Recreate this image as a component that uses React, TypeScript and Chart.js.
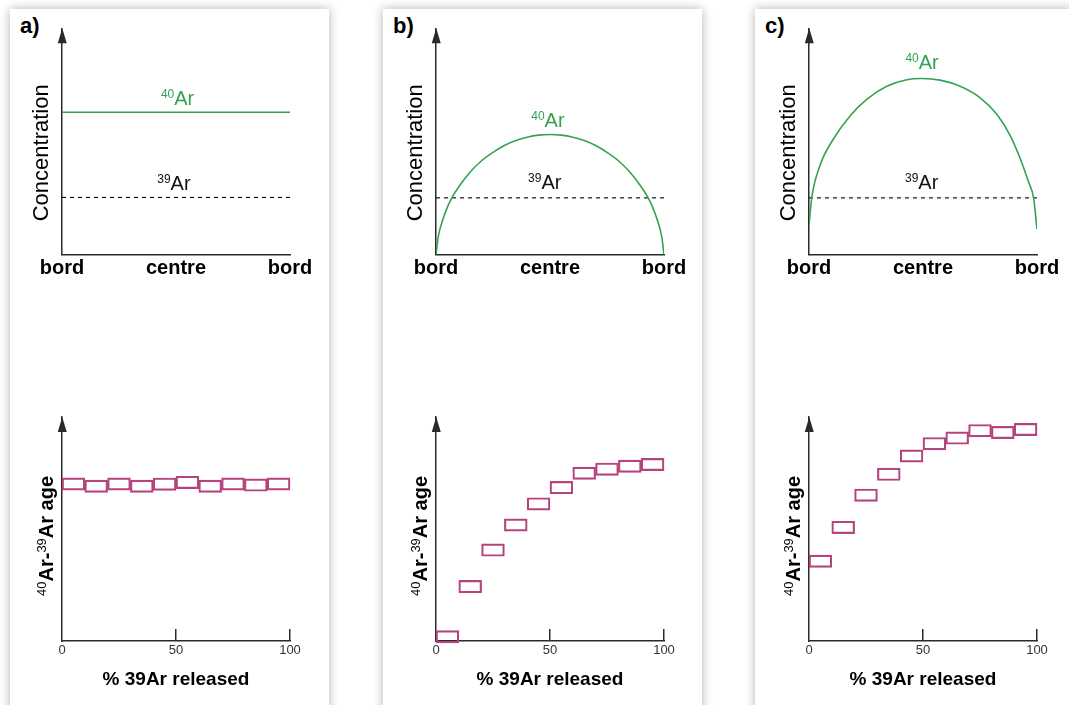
import React, { useEffect, useRef } from 'react';
import { Chart, registerables } from 'chart.js';

Chart.register(...registerables);

const FONT = "'Liberation Sans', Arial, Helvetica, sans-serif";
const GREEN = '#33a351';
const MAGENTA = '#b5437e';
const AXIS = '#2a2a2a';

// ---- tick labels ----
const PROFILE_TICKS = ['bord', 'centre', 'bord'];
const PROFILE_TICK_VALUES = [0, 50, 100];
const RELEASE_TICK_VALUES = [0, 50, 100];
const RELEASE_INNER_TICKS = [50, 100];

// ---- concentration profiles (x: % of grain, bord -> centre -> bord) ----
const AR40_A_X = [0, 100];
const AR40_A_Y = [62.9, 62.9];

const AR40_B_X = [0, 1, 3, 5, 7, 10, 15, 20, 25, 30, 35, 40, 45, 50, 55, 60, 65, 70, 75, 80, 85, 90, 93, 95, 97, 99, 100];
const AR40_B_Y = [0, 8, 15.5, 21, 25.2, 30, 36.5, 41.5, 45.2, 48.2, 50.4, 51.9, 52.8, 53.1, 52.8, 51.9, 50.4, 48.2, 45.2, 41.5, 36.5, 30, 25.2, 21, 15.5, 8, 0];

const AR40_C_X = [0, 1.2, 4.8, 10.7, 18, 25.3, 34.1, 42.9, 49.5, 57.5, 66.3, 75.1, 82.4, 88.3, 92.7, 96.3, 98.5, 100];
const AR40_C_Y = [13.1, 25.1, 39.4, 51.1, 61.3, 68.6, 74.4, 77.3, 77.8, 77.1, 74.4, 69.3, 62, 52.5, 42.3, 32.1, 25.1, 11.4];

const AR39_X = [0, 100];
const AR39_A_Y = [25.3, 25.3];
const AR39_B_Y = [25.1, 25.1];
const AR39_C_Y = [25.1, 25.1];

// ---- age spectra (10 heating steps) ----
const STEP_MID = [5, 15, 25, 35, 45, 55, 65, 75, 85, 95];
const AGE_A = [70.1, 69.1, 70.1, 69.1, 70.0, 70.8, 69.1, 70.1, 69.6, 70.1];
const AGE_B = [1.9, 24.3, 40.6, 51.8, 61.2, 68.5, 74.9, 76.7, 78.0, 78.8];
const AGE_C = [35.6, 50.7, 65.1, 74.4, 82.6, 88.1, 90.6, 93.9, 93.1, 94.4];
const AGE_HALF = 2.75;

type Seg = { text: string; font: string; dy: number };

function drawRich(ctx: CanvasRenderingContext2D, segs: Seg[], cx: number, baseY: number) {
  let total = 0;
  const widths = segs.map((s) => {
    ctx.font = s.font;
    const w = ctx.measureText(s.text).width;
    total += w;
    return w;
  });
  let x = cx - total / 2;
  ctx.textAlign = 'left';
  ctx.textBaseline = 'alphabetic';
  segs.forEach((s, i) => {
    ctx.font = s.font;
    ctx.fillText(s.text, x, baseY + s.dy);
    x += widths[i];
  });
}

const decorPlugin = {
  id: 'decor',
  afterDraw(chart: any, _args: any, opts: any) {
    const { ctx, chartArea, scales } = chart;
    const xs = scales.x;
    const ys = scales.y;
    ctx.save();
    const ax = Math.round(chartArea.left) + 0.25;
    // arrow on y axis
    ctx.fillStyle = AXIS;
    ctx.beginPath();
    ctx.moveTo(ax, chartArea.top);
    ctx.lineTo(ax - 4.5, chartArea.top + 15);
    ctx.lineTo(ax + 4.5, chartArea.top + 15);
    ctx.closePath();
    ctx.fill();
    // inner tick marks
    (opts.innerTicks || []).forEach((v: number) => {
      const px = Math.round(xs.getPixelForValue(v)) - 0.25;
      ctx.strokeStyle = AXIS;
      ctx.lineWidth = 1.5;
      ctx.beginPath();
      ctx.moveTo(px, chartArea.bottom);
      ctx.lineTo(px, chartArea.bottom - 12);
      ctx.stroke();
    });
    // in-plot labels
    (opts.labels || []).forEach((l: any) => {
      ctx.fillStyle = l.color;
      drawRich(
        ctx,
        [
          { text: l.sup, font: `12px ${FONT}`, dy: -7 },
          { text: l.main, font: `20px ${FONT}`, dy: 0 },
        ],
        xs.getPixelForValue(l.x),
        ys.getPixelForValue(l.y)
      );
    });
    // rotated y title
    if (opts.yTitle) {
      const t = opts.yTitle;
      ctx.translate(chartArea.left - t.gap, ys.getPixelForValue(t.y));
      ctx.rotate(-Math.PI / 2);
      ctx.fillStyle = '#000';
      drawRich(ctx, t.segs, 0, 0);
    }
    ctx.restore();
  },
};

const axisBorder = { display: true, color: AXIS, width: 1.5 };

function profileConfig(p: any) {
  return {
    type: 'line',
    data: {
      datasets: [
        {
          data: p.ar40X.map((x: number, i: number) => ({ x, y: p.ar40Y[i] })),
          borderColor: GREEN,
          borderWidth: 1.6,
          pointRadius: 0,
          cubicInterpolationMode: 'monotone',
          fill: false,
        },
        {
          data: AR39_X.map((x, i) => ({ x, y: p.ar39Y[i] })),
          borderColor: '#000',
          borderWidth: 1.1,
          borderDash: [4, 4],
          pointRadius: 0,
          fill: false,
        },
      ],
    },
    options: {
      animation: false,
      responsive: false,
      events: [],
      layout: { padding: { left: 52, right: 39, top: 19.3, bottom: 10.3 } },
      plugins: {
        legend: { display: false },
        tooltip: { enabled: false },
        decor: {
          labels: [
            { sup: '40', main: 'Ar', x: p.l40x, y: p.l40y, color: GREEN },
            { sup: '39', main: 'Ar', x: p.l39x, y: p.l39y, color: '#111' },
          ],
          yTitle: {
            gap: 13.7,
            y: 45,
            segs: [{ text: 'Concentration', font: `22px ${FONT}`, dy: 0 }],
          },
        },
      },
      scales: {
        x: {
          type: 'linear',
          min: 0,
          max: 100,
          grid: { display: false, drawTicks: false },
          border: axisBorder,
          afterBuildTicks: (s: any) => {
            s.ticks = PROFILE_TICK_VALUES.map((v) => ({ value: v }));
          },
          ticks: {
            padding: 2,
            color: '#000',
            autoSkip: false,
            maxRotation: 0,
            font: { size: 20, weight: 'bold', family: FONT },
            callback: (_v: any, i: number) => PROFILE_TICKS[i],
          },
        },
        y: {
          min: 0,
          max: 100,
          grid: { display: false, drawTicks: false },
          border: axisBorder,
          ticks: { display: false },
        },
      },
    },
    plugins: [decorPlugin],
  };
}

function spectrumConfig(p: any) {
  return {
    type: 'bar',
    data: {
      datasets: [
        {
          data: STEP_MID.map((x, i) => ({ x, y: [p.age[i] - AGE_HALF, p.age[i] + AGE_HALF] })),
          backgroundColor: 'rgba(255,255,255,0)',
          borderColor: MAGENTA,
          borderWidth: 1.5,
          borderSkipped: false,
          barPercentage: 1,
          categoryPercentage: 1,
          clip: false,
        },
      ],
    },
    options: {
      animation: false,
      responsive: false,
      events: [],
      layout: { padding: { left: 52, right: 39, top: 17, bottom: 4.6 } },
      plugins: {
        legend: { display: false },
        tooltip: { enabled: false },
        decor: {
          innerTicks: RELEASE_INNER_TICKS,
          yTitle: {
            gap: 8.7,
            y: 46.9,
            segs: [
              { text: '40', font: `13px ${FONT}`, dy: -7 },
              { text: 'Ar-', font: `bold 20px ${FONT}`, dy: 0 },
              { text: '39', font: `13px ${FONT}`, dy: -7 },
              { text: 'Ar age', font: `bold 20px ${FONT}`, dy: 0 },
            ],
          },
        },
      },
      scales: {
        x: {
          type: 'linear',
          min: 0,
          max: 100,
          offset: false,
          grid: { display: false, drawTicks: false, offset: false },
          border: axisBorder,
          afterBuildTicks: (s: any) => {
            s.ticks = RELEASE_TICK_VALUES.map((v) => ({ value: v }));
          },
          ticks: {
            padding: 2,
            color: '#333',
            autoSkip: false,
            maxRotation: 0,
            font: { size: 13, family: FONT },
          },
          title: {
            display: true,
            text: '% 39Ar released',
            color: '#000',
            font: { size: 19, weight: 'bold', family: FONT },
            padding: { top: 8, bottom: 4 },
          },
        },
        y: {
          min: 0,
          max: 100,
          grid: { display: false, drawTicks: false },
          border: axisBorder,
          ticks: { display: false },
        },
      },
    },
    plugins: [decorPlugin],
  };
}

const PANELS = [
  { name: 'a)', panelLeft: 10, canvasLeft: 10, ar40X: AR40_A_X, ar40Y: AR40_A_Y, ar39Y: AR39_A_Y, age: AGE_A, l40x: 50.7, l40y: 66.0, l39x: 49.1, l39y: 28.5 },
  { name: 'b)', panelLeft: 383, canvasLeft: 384, ar40X: AR40_B_X, ar40Y: AR40_B_Y, ar39Y: AR39_B_Y, age: AGE_B, l40x: 49.1, l40y: 56.5, l39x: 47.7, l39y: 28.9 },
  { name: 'c)', panelLeft: 755, canvasLeft: 757, ar40X: AR40_C_X, ar40Y: AR40_C_Y, ar39Y: AR39_C_Y, age: AGE_C, l40x: 49.6, l40y: 82.0, l39x: 49.4, l39y: 28.9 },
];

function ChartCanvas({ config, left, top, width, height }: any) {
  const ref = useRef<HTMLCanvasElement>(null);
  useEffect(() => {
    const chart = new Chart(ref.current as HTMLCanvasElement, config);
    return () => chart.destroy();
  }, []);
  return (
    <canvas
      ref={ref}
      width={width}
      height={height}
      style={{ position: 'absolute', left, top, width, height }}
    />
  );
}

export default function App() {
  return (
    <div
      style={{
        position: 'fixed',
        left: 0,
        top: 0,
        width: 1069,
        height: 705,
        overflow: 'hidden',
        background: '#fff',
        fontFamily: FONT,
      }}
    >
      {PANELS.map((p) => (
        <div
          key={p.name + 'bg'}
          style={{
            position: 'absolute',
            left: p.panelLeft,
            top: 9,
            width: 319,
            height: 720,
            background: '#fff',
            boxShadow: '0 0 10px rgba(0,0,0,0.3)',
          }}
        />
      ))}
      {PANELS.map((p) => (
        <div
          key={p.name}
          style={{
            position: 'absolute',
            left: p.panelLeft + 10,
            top: 15,
            fontSize: 22,
            lineHeight: '22px',
            fontWeight: 'bold',
            color: '#000',
          }}
        >
          {p.name}
        </div>
      ))}
      {PANELS.map((p) => (
        <ChartCanvas key={p.name + 'top'} config={profileConfig(p)} left={p.canvasLeft} top={9} width={319} height={284} />
      ))}
      {PANELS.map((p) => (
        <ChartCanvas key={p.name + 'bot'} config={spectrumConfig(p)} left={p.canvasLeft} top={400} width={319} height={300} />
      ))}
    </div>
  );
}
